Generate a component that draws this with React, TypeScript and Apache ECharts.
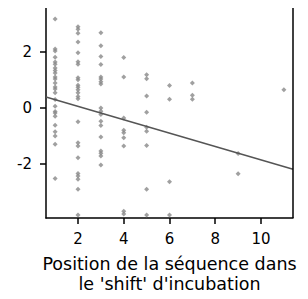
import React, { useEffect, useRef } from "react";
import * as echarts from "echarts";

// Residual values grouped by position in the incubation shift
const pos1 = [3.19, 2.11, 2.04, 1.82, 1.65, 1.57, 1.43, 1.34, 1.25, 1.11, 1.04, 0.89, 0.75, 0.68, 0.54, 0.30, 0.06, -0.13, -0.18, -0.30, -0.62, -0.86, -1.01, -1.30, -2.53];
const pos2 = [2.91, 2.82, 2.68, 2.36, 1.98, 1.66, 1.57, 1.08, 1.01, 0.81, 0.74, 0.65, 0.54, 0.41, 0.33, -0.50, -1.25, -1.37, -1.79, -2.35, -2.44, -2.56, -2.92, -3.84];
const pos3 = [2.70, 2.23, 1.84, 1.56, 1.11, 1.04, 0.94, 0.86, 0.0, -0.12, -0.24, -0.48, -0.63, -1.04, -1.55, -1.63, -1.73, -2.05];
const pos4 = [1.81, 1.11, -0.36, -0.80, -0.89, -1.07, -1.37, -3.71, -3.81];
const pos5 = [1.19, 1.05, 0.43, -0.16, -0.69, -0.84, -1.35, -2.92, -3.84];
const pos6 = [0.80, 0.31, -2.65, -3.84];
const pos7 = [0.89, 0.45, 0.31];
const pos9 = [-1.64, -2.36];
const pos11 = [0.65];

const positions = [1, 2, 3, 4, 5, 6, 7, 9, 11];
const groups = [pos1, pos2, pos3, pos4, pos5, pos6, pos7, pos9, pos11];

// Regression line
const intercept = 0.535;
const slope = -0.24;
const xRange = [0.6, 11.4];
const yRange = [-3.95, 3.62];
const xTicks = [2, 4, 6, 8, 10];
const yTicks = [-2, 0, 2];

const xTitle = "Position de la séquence dans\nle 'shift' d'incubation";

export default function App() {
  const ref = useRef<HTMLDivElement>(null);
  useEffect(() => {
    if (!ref.current) return;
    const chart = echarts.init(ref.current, null, { renderer: "svg" });
    const points: number[][] = [];
    groups.forEach((g, i) => g.forEach((y) => points.push([positions[i], y])));
    const linePts = xRange.map((x) => [x, intercept + slope * x]);
    const font = "DejaVu Sans";
    const [x0, x1] = xRange;
    const [y0, y1] = yRange;
    chart.setOption({
      animation: false,
      grid: { left: 46, right: 15, top: 7, bottom: 80 },
      xAxis: {
        type: "value",
        min: x0,
        max: x1,
        splitLine: { show: false },
        axisLine: { show: true, onZero: false, lineStyle: { color: "#000", width: 1.5 } },
        axisTick: { show: true, length: 6, customValues: xTicks, lineStyle: { color: "#000", width: 1.5 } },
        axisLabel: { customValues: xTicks, color: "#000", fontSize: 15, fontFamily: font, margin: 13 },
        name: xTitle,
        nameLocation: "middle",
        nameGap: 36,
        nameTextStyle: { color: "#000", fontSize: 17.5, fontFamily: font, lineHeight: 20 },
      },
      yAxis: {
        type: "value",
        min: y0,
        max: y1,
        splitLine: { show: false },
        axisLine: { show: true, onZero: false, lineStyle: { color: "#000", width: 1.5 } },
        axisTick: { show: true, length: 6, customValues: yTicks, lineStyle: { color: "#000", width: 1.5 } },
        axisLabel: { customValues: yTicks, color: "#000", fontSize: 15, fontFamily: font, margin: 14 },
      },
      series: [
        {
          type: "scatter",
          data: points,
          symbol: "diamond",
          symbolSize: 5,
          itemStyle: { color: "#888" },
          silent: true,
        },
        {
          type: "line",
          data: linePts,
          showSymbol: false,
          lineStyle: { color: "#555", width: 1.5 },
          silent: true,
          markLine: {
            silent: true,
            symbol: "none",
            label: { show: false },
            lineStyle: { color: "#000", width: 1.5, type: "solid" },
            data: [
              [{ coord: [x0, y1] }, { coord: [x1, y1] }],
              [{ coord: [x1, y1] }, { coord: [x1, y0] }],
            ],
          },
        },
      ],
    });
    return () => chart.dispose();
  }, []);
  return <div ref={ref} style={{ width: 308, height: 299, margin: -8 }} />;
}
